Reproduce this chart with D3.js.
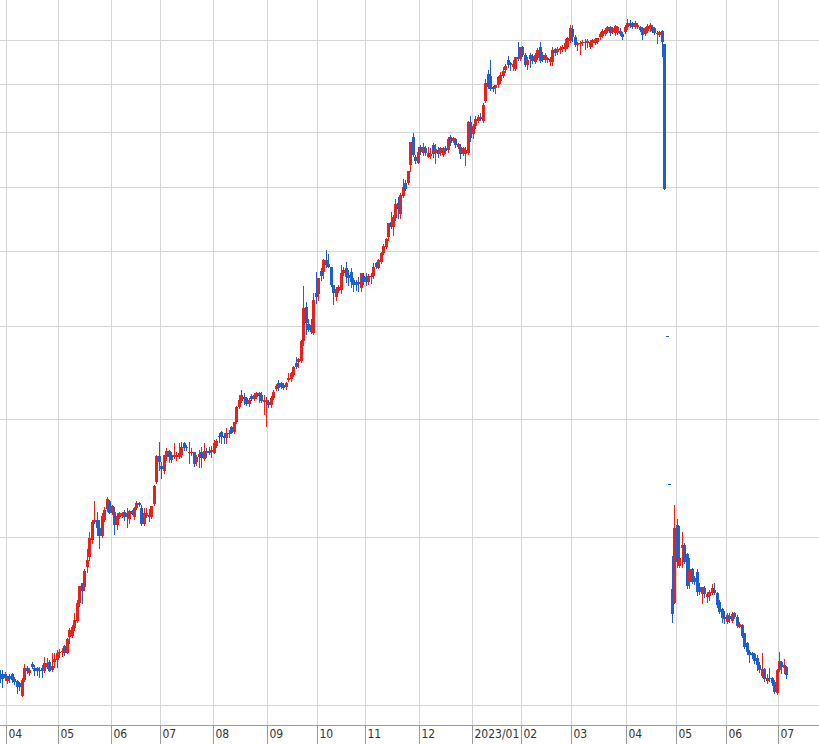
<!DOCTYPE html>
<html>
<head>
<meta charset="utf-8">
<script src="https://cdn.jsdelivr.net/npm/d3@7"></script>
<style>
  body { margin: 0; background: #fff; }
  svg { display: block; }
</style>
</head>
<body>
<div id="chart"></div>
<script>
// daily candles, one per trading day (2022/03/29 .. 2023/07/06)
var open = [
  2156,2156,2156,2120,2146,2156,2130,2120,2110,2044,
  2125,2187,2161,2209,2187,2187,2177,2187,2172,2193,
  2219,2177,2219,2230,2269,2274,2307,2269,2358,2364,
  2410,2451,2560,2688,2662,2793,2862,2982,3115,3130,
  3070,3011,3130,3215,3277,3184,3192,3093,3153,3161,
  3192,3184,3138,3199,3153,3223,3262,3223,3100,3161,
  3169,3153,3254,3432,3655,3567,3525,3646,3699,3664,
  3646,3646,3646,3664,3772,3735,3681,3681,3690,3602,
  3646,3690,3628,3699,3699,3690,3681,3744,3836,3874,
  3836,3818,3855,3921,3874,3968,4115,4175,4216,4205,
  4145,4226,4195,4216,4256,4236,4165,4165,4165,4135,
  4205,4298,4361,4361,4340,4319,4392,4403,4446,4577,
  4588,4599,4827,5241,5030,5018,4921,5422,5409,5717,
  5704,5872,5816,5773,5528,5369,5448,5461,5690,5759,
  5663,5704,5594,5567,5567,5488,5649,5635,5567,5635,
  5649,5830,5759,5844,5973,6060,6208,6438,6361,6501,
  6740,6564,6856,7075,7075,7391,7908,7535,7426,7719,
  7608,7700,7535,7553,7757,7608,7663,7608,7572,7700,
  7663,7908,7831,7869,7719,7719,7590,7590,7608,8201,
  7966,8122,8220,8301,8220,8628,9211,9166,8925,8904,
  8969,9055,9166,9300,9527,9459,9368,9323,9597,9550,
  9833,9644,9414,9644,9620,9482,9574,9833,9644,9527,
  9527,9482,9482,9785,9714,9761,9785,9785,9833,9976,
  10270,10074,9881,9904,9928,9952,9928,9833,9928,9928,
  9952,10074,10098,10147,10221,10320,10196,10172,10172,10221,
  10147,10196,10320,10421,10421,10320,10320,10320,10295,10147,
  10221,10270,10320,10295,10147,10123,10221,9904,4880,3415,
  2649,2560,3093,2800,2925,2946,2883,2694,2780,2720,
  2760,2662,2617,2655,2598,2604,2623,2642,2623,2567,
  2523,2475,2445,2481,2451,2499,2475,2416,2428,2381,
  2324,2274,2269,2263,2241,2203,2146,2182,2120,2135,
  2135,2115,2059,2177,2219,2187,2193
];
var high = [
  2177,2177,2167,2146,2156,2161,2141,2125,2115,2135,
  2209,2198,2187,2219,2203,2193,2193,2203,2247,2241,
  2230,2269,2269,2285,2291,2296,2313,2353,2410,2428,
  2499,2579,2668,2688,2780,2918,3040,3130,3277,3192,
  3130,3184,3230,3309,3285,3246,3230,3184,3192,3192,
  3207,3223,3207,3207,3230,3277,3269,3246,3223,3223,
  3215,3238,3407,3664,3781,3602,3664,3726,3708,3690,
  3772,3690,3772,3781,3781,3754,3781,3726,3690,3664,
  3708,3735,3772,3726,3735,3744,3799,3808,3864,3883,
  3864,3911,3892,3930,3968,4125,4236,4287,4256,4216,
  4205,4246,4256,4267,4267,4267,4236,4216,4185,4226,
  4287,4350,4392,4371,4361,4371,4468,4478,4544,4644,
  4633,4838,5514,5305,5091,5091,5422,5704,5621,5759,
  5886,6016,5958,5773,5528,5501,5528,5802,5773,5844,
  5731,5759,5621,5594,5635,5690,5690,5690,5676,5690,
  5830,5844,5886,5987,6104,6193,6423,6595,6548,6806,
  6839,6906,7144,7126,7284,7813,7985,7572,7719,7757,
  7794,7738,7719,7700,7794,7775,7719,7719,7719,7738,
  7908,7947,7908,7889,7794,7775,7719,7719,8220,8321,
  8161,8321,8341,8381,8587,9099,9300,9527,8947,8969,
  9166,9255,9368,9436,9620,9482,9527,9597,9952,9833,
  9857,9691,9597,9691,9667,9691,9809,9952,9714,9691,
  9597,9597,9833,9809,9833,9857,9881,10025,10074,10371,
  10371,10123,9952,9976,10000,10025,10025,10000,10025,10049,
  10049,10196,10270,10295,10345,10345,10320,10371,10345,10295,
  10196,10371,10522,10496,10446,10471,10421,10345,10320,10320,
  10396,10421,10371,10320,10221,10221,10245,9904,4880,3415,
  2869,3246,3138,3085,3040,2961,2890,2855,2787,2733,
  2780,2688,2662,2668,2630,2642,2681,2688,2630,2579,
  2529,2511,2499,2499,2505,2505,2487,2445,2433,2381,
  2330,2285,2274,2269,2258,2219,2269,2187,2156,2187,
  2141,2125,2182,2274,2225,2236,2198
];
var low = [
  2115,2089,2125,2110,2115,2115,2105,2059,2074,2044,
  2120,2161,2151,2187,2151,2151,2141,2141,2167,2187,
  2172,2172,2193,2193,2247,2252,2258,2269,2324,2358,
  2398,2445,2542,2560,2642,2760,2841,2961,3108,3018,
  2925,3004,3123,3199,3184,3176,3026,3063,3145,3153,
  3130,3078,3108,3176,3138,3215,3238,3093,3093,3153,
  3123,3145,3246,3423,3533,3465,3508,3619,3602,3602,
  3637,3619,3637,3646,3708,3708,3593,3664,3567,3576,
  3559,3559,3619,3646,3672,3646,3681,3735,3781,3772,
  3772,3772,3827,3864,3864,3959,4105,4165,4145,4135,
  4125,4185,4185,4205,4165,4165,4046,3930,4115,4115,
  4195,4287,4287,4308,4298,4298,4382,4382,4435,4522,
  4533,4588,4781,4910,4945,4921,4910,5292,5330,5594,
  5621,5773,5773,5514,5279,5330,5435,5422,5663,5567,
  5528,5501,5448,5461,5448,5448,5541,5528,5541,5554,
  5621,5759,5759,5830,5958,6045,6163,6345,6239,6469,
  6501,6501,6839,6956,7058,7284,7553,7426,7426,7590,
  7572,7572,7535,7517,7535,7426,7535,7572,7553,7608,
  7626,7757,7813,7719,7700,7517,7572,7391,7590,7831,
  7889,8083,8201,8240,8201,8608,8904,8860,8839,8797,
  8925,9012,9144,9255,9368,9300,9300,9300,9527,9527,
  9620,9391,9323,9368,9459,9459,9550,9482,9504,9482,
  9482,9414,9414,9644,9667,9691,9738,9738,9809,9952,
  9976,9857,9761,9667,9881,9785,9833,9809,9857,9904,
  9928,10025,10074,10123,10196,10123,10172,10123,10147,10123,
  10025,10172,10270,10320,10295,10295,10295,10221,10025,10123,
  10196,10221,10196,10147,9928,10098,9620,6970,4880,3415,
  2445,2560,2793,2793,2793,2821,2655,2655,2688,2681,
  2611,2617,2560,2598,2567,2579,2617,2617,2536,2499,
  2445,2439,2439,2445,2445,2469,2416,2416,2358,2296,
  2263,2219,2241,2214,2177,2167,2141,2120,2110,2120,
  2100,2059,2054,2172,2161,2161,2135
];
var close = [
  2130,2130,2135,2135,2130,2125,2115,2089,2089,2125,
  2187,2172,2177,2193,2172,2172,2172,2172,2214,2214,
  2172,2198,2236,2269,2274,2280,2269,2347,2398,2416,
  2457,2560,2668,2636,2766,2841,2996,3115,3130,3070,
  3011,3161,3207,3293,3184,3238,3093,3161,3184,3184,
  3153,3153,3199,3176,3223,3262,3246,3100,3184,3184,
  3153,3238,3399,3655,3602,3542,3664,3699,3646,3619,
  3664,3664,3681,3735,3726,3726,3690,3690,3585,3646,
  3672,3637,3699,3681,3681,3708,3772,3790,3827,3827,
  3818,3864,3864,3864,3968,4115,4185,4236,4195,4145,
  4185,4195,4236,4256,4226,4175,4185,4185,4135,4205,
  4267,4329,4308,4319,4308,4361,4414,4468,4533,4533,
  4621,4827,5228,5042,4957,4933,5330,5369,5621,5649,
  5872,5802,5773,5528,5422,5474,5501,5690,5731,5635,
  5621,5567,5528,5528,5541,5690,5567,5567,5649,5649,
  5773,5773,5872,5973,6075,6178,6423,6361,6516,6724,
  6643,6873,7007,6973,7284,7813,7572,7462,7626,7626,
  7719,7608,7608,7590,7590,7682,7590,7700,7700,7645,
  7869,7794,7889,7757,7775,7590,7700,7663,8201,7889,
  8122,8260,8301,8260,8546,9012,8925,8882,8882,8969,
  9144,9189,9278,9391,9414,9414,9436,9597,9550,9833,
  9644,9414,9527,9550,9504,9644,9761,9504,9527,9644,
  9574,9550,9761,9691,9785,9809,9833,9928,10049,10295,
  10074,9881,9928,9928,9952,9928,9976,9952,10000,10025,
  10049,10147,10221,10245,10320,10172,10295,10345,10320,10147,
  10074,10320,10421,10345,10320,10421,10371,10245,10123,10295,
  10345,10371,10221,10172,10172,10196,9952,6970,4880,3415,
  2493,3070,2827,2855,2946,2827,2668,2780,2694,2694,
  2630,2630,2662,2617,2617,2630,2655,2623,2548,2505,
  2469,2463,2487,2463,2493,2475,2422,2433,2364,2302,
  2274,2258,2258,2225,2203,2177,2182,2130,2135,2130,
  2110,2064,2177,2225,2193,2203,2151
];

// first trading day of each month (index into the arrays above)
var monthStarts = [3, 24, 45, 65, 86, 108, 128, 147, 169, 190, 210, 230, 252, 272, 292, 313];
var monthLabels = ["04", "05", "06", "07", "08", "09", "10", "11", "12", "2023/01", "02", "03", "04", "05", "06", "07"];
var gridPrices = [2000, 3000, 4000, 5000, 6000, 7000, 8000, 9000, 10000];

var width = 819, height = 744, axisY = 725;
var upColor = "#e8221b", downColor = "#1b5fd0", gridColor = "#d6d6d6", axisColor = "#9a9a9a";

var svg = d3.select("#chart").append("svg")
    .attr("width", width)
    .attr("height", height)
    .attr("shape-rendering", "crispEdges");

var x = d3.scaleLinear().domain([3, 313]).rangeRound([6, 778]);
var y = d3.scaleLog().domain([2000, 10000]).range([705, 40]);

// grid
svg.append("g").selectAll("line")
    .data(gridPrices)
  .join("line")
    .attr("x1", 0).attr("x2", width)
    .attr("y1", function(d) { return Math.round(y(d)) + 0.5; })
    .attr("y2", function(d) { return Math.round(y(d)) + 0.5; })
    .attr("stroke", gridColor);

svg.append("g").selectAll("line")
    .data(monthStarts)
  .join("line")
    .attr("x1", function(d) { return x(d) + 0.5; })
    .attr("x2", function(d) { return x(d) + 0.5; })
    .attr("y1", 0).attr("y2", axisY)
    .attr("stroke", gridColor);

// candles (body starts on the day's grid position, wick in its middle column)
svg.append("clipPath").attr("id", "plot")
  .append("rect").attr("x", 0).attr("y", 0).attr("width", width).attr("height", axisY);

var days = d3.range(close.length);
function colorOf(i) {
  if (close[i] > open[i]) return upColor;
  if (close[i] < open[i]) return downColor;
  return (i > 0 && close[i] < close[i - 1]) ? downColor : upColor;
}

var candles = svg.append("g").attr("clip-path", "url(#plot)");

candles.selectAll("line")
    .data(days)
  .join("line")
    .attr("x1", function(i) { return x(i) + 1.5; })
    .attr("x2", function(i) { return x(i) + 1.5; })
    .attr("y1", function(i) { return Math.round(y(high[i])); })
    .attr("y2", function(i) { return Math.round(y(low[i])) + 1; })
    .attr("stroke", colorOf);

candles.selectAll("rect")
    .data(days)
  .join("rect")
    .attr("x", function(i) { return x(i); })
    .attr("width", 3)
    .attr("y", function(i) { return Math.round(y(Math.max(open[i], close[i]))); })
    .attr("height", function(i) {
      return Math.max(1, Math.round(y(Math.min(open[i], close[i]))) - Math.round(y(Math.max(open[i], close[i]))));
    })
    .attr("fill", colorOf);

// x axis
svg.append("line")
    .attr("x1", 0).attr("x2", width)
    .attr("y1", axisY + 0.5).attr("y2", axisY + 0.5)
    .attr("stroke", axisColor);

var xAxis = d3.axisBottom(x)
    .tickValues(monthStarts)
    .tickFormat(function(d, i) { return monthLabels[i]; })
    .tickSize(height - axisY)
    .tickSizeOuter(0);

var ax = svg.append("g")
    .attr("transform", "translate(0," + axisY + ")")
    .call(xAxis);

ax.select(".domain").remove();
ax.selectAll(".tick line").attr("stroke", axisColor);
ax.selectAll(".tick text")
    .attr("text-anchor", "start")
    .attr("x", 2)
    .attr("y", 4)
    .attr("fill", "#333")
    .style("font-family", "'Liberation Sans Narrow', 'DejaVu Sans Condensed', sans-serif")
    .style("font-size", "12px");
</script>
</body>
</html>
